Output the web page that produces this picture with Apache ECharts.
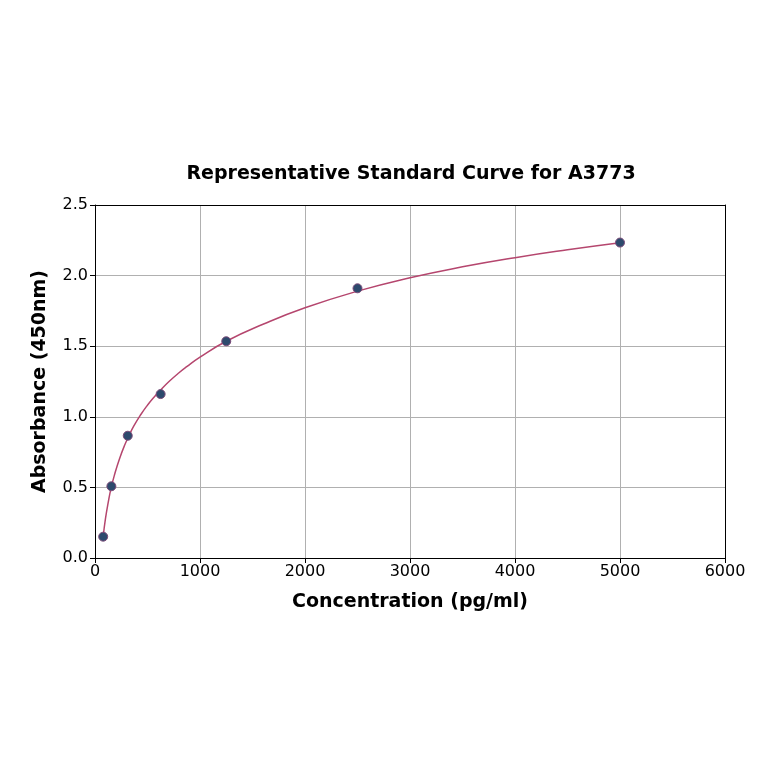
<!DOCTYPE html>
<html lang="en">
<head>
    <meta charset="UTF-8">
    <title>Representative Standard Curve for A3773</title>
    <script type="text/javascript" src="https://cdn.jsdelivr.net/npm/echarts@6/dist/echarts.min.js"></script>
    <style type="text/css">
        html,body{margin:0;padding:0;background:#fff;}
        #main{width:764px;height:764px;}
    </style>
</head>
<body>
<div id="main"></div>
<script type="text/javascript">
    // standard points
    var conc = [78, 156, 312, 625, 1250, 2500, 5000];
    var absorb = [0.151, 0.508, 0.866, 1.161, 1.535, 1.910, 2.234];
    // fitted curve
    var curveX = [78, 100, 125, 153, 190, 232, 280, 321, 370, 440, 500, 551, 625, 710, 800, 870, 1000, 1250, 1600, 2000, 2500, 3000, 3500, 4000, 4500, 5000];
    var curveY = [0.152, 0.28, 0.39, 0.495, 0.60, 0.70, 0.795, 0.862, 0.935, 1.02, 1.083, 1.13, 1.19, 1.253, 1.312, 1.353, 1.423, 1.535, 1.655, 1.772, 1.89, 1.985, 2.062, 2.127, 2.183, 2.233];
    var xTicks = [0, 1000, 2000, 3000, 4000, 5000, 6000];

    var font = 'DejaVu Sans';
    var curveData = [];
    for (var i = 0; i < curveX.length; i++) {
        curveData.push([curveX[i], curveY[i]]);
    }
    var pointData = [];
    for (var j = 0; j < conc.length; j++) {
        pointData.push([conc[j], absorb[j]]);
    }

    var nameStyle = {color: '#000', fontFamily: font, fontWeight: 'bold', fontSize: 19};
    var myChart = echarts.init(document.getElementById('main'));
    var option = {
        animation: false,
        title: {
            text: 'Representative Standard Curve for A3773',
            left: 406,
            top: 160,
            textAlign: 'center',
            textStyle: nameStyle
        },
        grid: {left: 95, top: 205, right: 39, bottom: 206},
        xAxis: [{
            type: 'value', min: xTicks[0], max: xTicks[xTicks.length - 1], interval: 1000,
            name: 'Concentration (pg/ml)',
            nameLocation: 'middle', nameGap: 35,
            nameTextStyle: nameStyle,
            axisLine: {show: true, lineStyle: {color: '#000', width: 1}},
            axisTick: {show: true, length: 5, lineStyle: {color: '#000'}},
            axisLabel: {
                color: '#000', fontFamily: font, fontSize: 16, margin: 6,
                formatter: function (v) { return String(v); }
            },
            splitLine: {show: true, lineStyle: {color: '#b0b0b0', width: 1}}
        }, {
            // top frame
            type: 'value', position: 'top', min: 0, max: 6000,
            axisLine: {show: true, onZero: false, lineStyle: {color: '#000', width: 1}},
            axisTick: {show: false}, axisLabel: {show: false}, splitLine: {show: false}
        }],
        yAxis: [{
            type: 'value', min: 0, max: 2.5, interval: 0.5,
            name: 'Absorbance (450nm)',
            nameLocation: 'middle', nameGap: 45,
            nameTextStyle: nameStyle,
            axisLine: {show: true, lineStyle: {color: '#000', width: 1}},
            axisTick: {show: true, length: 5, lineStyle: {color: '#000'}},
            axisLabel: {
                color: '#000', fontFamily: font, fontSize: 16, margin: 7,
                formatter: function (v) { return v.toFixed(1); }
            },
            splitLine: {show: true, lineStyle: {color: '#b0b0b0', width: 1}}
        }, {
            // right frame
            type: 'value', position: 'right', min: 0, max: 2.5,
            axisLine: {show: true, onZero: false, lineStyle: {color: '#000', width: 1}},
            axisTick: {show: false}, axisLabel: {show: false}, splitLine: {show: false}
        }],
        series: [{
            type: 'line',
            data: curveData,
            smooth: 0.5,
            showSymbol: false,
            lineStyle: {color: '#b5466e', width: 1.5},
            z: 2
        }, {
            type: 'scatter',
            data: pointData,
            symbolSize: 9,
            itemStyle: {color: '#2d4a6d', borderColor: '#7a4a78', borderWidth: 1, opacity: 1},
            z: 3
        }]
    };
    myChart.setOption(option);
</script>
</body>
</html>
